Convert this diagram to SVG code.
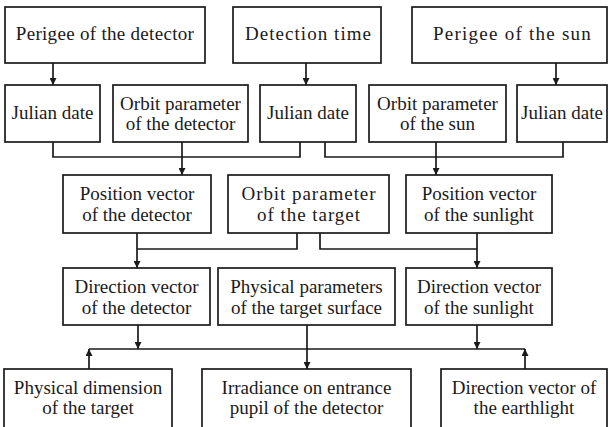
<svg xmlns="http://www.w3.org/2000/svg" width="609" height="427" viewBox="0 0 609 427">
<style>
.box{fill:#fff;stroke:#1a1a1a;stroke-width:1.7}
text{font-family:'Liberation Serif','Times New Roman',serif;font-size:19px;fill:#1a1a1a;text-anchor:middle}
.c{fill:none;stroke:#1a1a1a;stroke-width:1.7}
</style>
<defs>
<marker id="ah" viewBox="0 0 10 10" refX="10" refY="5" markerWidth="7" markerHeight="7" markerUnits="userSpaceOnUse" orient="auto">
<path d="M0,0 L10,5 L0,10 z" fill="#1a1a1a"/>
</marker>
</defs>
<rect width="609" height="427" fill="#fff"/>
<g id="connectors">
<line class="c" x1="53" y1="63" x2="53" y2="85" marker-end="url(#ah)"/>
<line class="c" x1="306" y1="63" x2="306" y2="85" marker-end="url(#ah)"/>
<line class="c" x1="556" y1="63" x2="556" y2="85" marker-end="url(#ah)"/>
<polyline class="c" points="53,142 53,157 300,157 300,142"/>
<line class="c" x1="182" y1="142" x2="182" y2="175" marker-end="url(#ah)"/>
<polyline class="c" points="325,142 325,157 563,157 563,142"/>
<line class="c" x1="436" y1="142" x2="436" y2="175" marker-end="url(#ah)"/>
<polyline class="c" points="297,233 297,249 137,249"/>
<line class="c" x1="137" y1="233" x2="137" y2="268" marker-end="url(#ah)"/>
<polyline class="c" points="320,233 320,249 477,249"/>
<line class="c" x1="477" y1="233" x2="477" y2="268" marker-end="url(#ah)"/>
<line class="c" x1="89" y1="349" x2="525" y2="349"/>
<line class="c" x1="138" y1="325" x2="138" y2="349" marker-end="url(#ah)"/>
<line class="c" x1="477" y1="325" x2="477" y2="349" marker-end="url(#ah)"/>
<line class="c" x1="307" y1="325" x2="307" y2="369" marker-end="url(#ah)"/>
<line class="c" x1="89" y1="369" x2="89" y2="349" marker-end="url(#ah)"/>
<line class="c" x1="525" y1="369" x2="525" y2="349" marker-end="url(#ah)"/>
</g>
<g id="perigee-detector"><rect class="box" x="5" y="7" width="200" height="56"/><text x="105" y="40" letter-spacing="0.3">Perigee of the detector</text></g>
<g id="detection-time"><rect class="box" x="233" y="7" width="148" height="56"/><text x="308.5" y="40" letter-spacing="1.05">Detection time</text></g>
<g id="perigee-sun"><rect class="box" x="412" y="7" width="195" height="56"/><text x="512.5" y="40" letter-spacing="1.25">Perigee of the sun</text></g>
<g id="julian1"><rect class="box" x="5" y="85" width="95" height="57"/><text x="52.5" y="119">Julian date</text></g>
<g id="orbit-detector"><rect class="box" x="113" y="85" width="135" height="57"/><text x="180.5" y="110">Orbit parameter</text><text x="180.5" y="130">of the detector</text></g>
<g id="julian2"><rect class="box" x="260" y="85" width="96" height="57"/><text x="308" y="119">Julian date</text></g>
<g id="orbit-sun"><rect class="box" x="369" y="85" width="137" height="57"/><text x="437.5" y="110">Orbit parameter</text><text x="437.5" y="130">of the sun</text></g>
<g id="julian3"><rect class="box" x="517" y="85" width="90" height="57"/><text x="562" y="119">Julian date</text></g>
<g id="position-detector"><rect class="box" x="63" y="175" width="148" height="58"/><text x="137" y="200">Position vector</text><text x="137" y="221">of the detector</text></g>
<g id="orbit-target"><rect class="box" x="228" y="175" width="161" height="58"/><text x="309" y="200" letter-spacing="0.95">Orbit parameter</text><text x="309" y="221" letter-spacing="0.95">of the target</text></g>
<g id="position-sunlight"><rect class="box" x="406" y="175" width="146" height="58"/><text x="479" y="200">Position vector</text><text x="479" y="221">of the sunlight</text></g>
<g id="direction-detector"><rect class="box" x="63" y="268" width="147" height="57"/><text x="136.5" y="293">Direction vector</text><text x="136.5" y="314">of the detector</text></g>
<g id="physical-parameters"><rect class="box" x="218" y="268" width="177" height="57"/><text x="306.5" y="293">Physical parameters</text><text x="306.5" y="314">of the target surface</text></g>
<g id="direction-sunlight"><rect class="box" x="406" y="268" width="146" height="57"/><text x="479" y="293">Direction vector</text><text x="479" y="314">of the sunlight</text></g>
<g id="physical-dimension"><rect class="box" x="4" y="369" width="168" height="65"/><text x="88" y="394">Physical dimension</text><text x="88" y="414">of the target</text></g>
<g id="irradiance"><rect class="box" x="202" y="369" width="209" height="65"/><text x="306.5" y="394">Irradiance on entrance</text><text x="306.5" y="414">pupil of the detector</text></g>
<g id="direction-earthlight"><rect class="box" x="441" y="369" width="166" height="65"/><text x="524" y="394">Direction vector of</text><text x="524" y="414">the earthlight</text></g>
</svg>
